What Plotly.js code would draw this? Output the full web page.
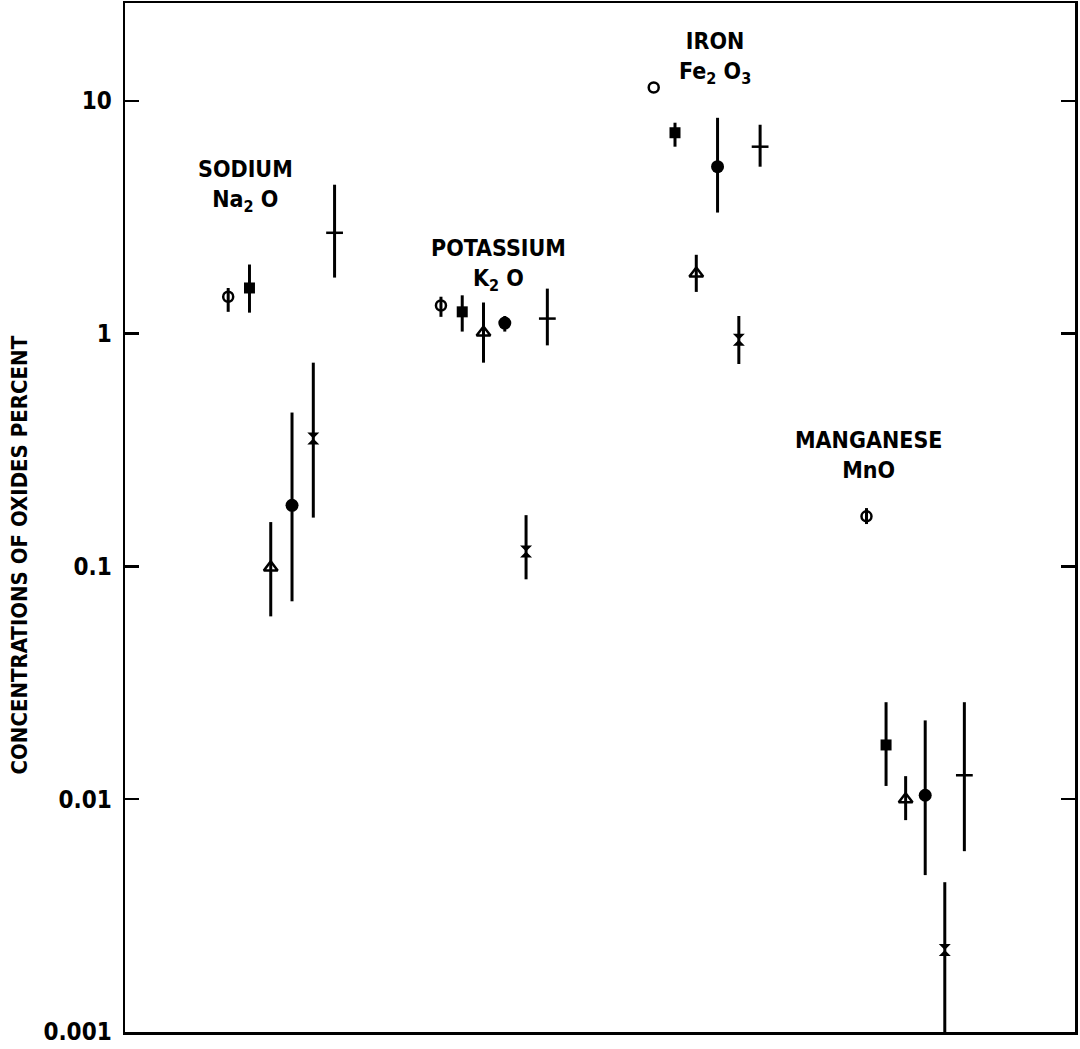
<!DOCTYPE html>
<html>
<head>
<meta charset="utf-8">
<script src="https://cdn.plot.ly/plotly-3.0.1.min.js"></script>
<style>
  html, body { margin: 0; padding: 0; background: #fff; }
  #chart { width: 1080px; height: 1049px; }
</style>
</head>
<body>
<div id="chart"></div>
<script>
// Oxide groups (left to right) and their labels
const groups = ['SODIUM', 'POTASSIUM', 'IRON', 'MANGANESE'];
const groupLabels = ['SODIUM<br>Na<sub>2</sub> O', 'POTASSIUM<br>K<sub>2</sub> O', 'IRON<br>Fe<sub>2</sub> O<sub>3</sub>', 'MANGANESE<br>MnO'];

// Six samples within each group (value, upper and lower limit), percent
const openCircle     = [1.44, 1.32, 11.4, 0.164];
const openCircleHi   = [1.57, 1.44, 11.4, 0.178];
const openCircleLo   = [1.24, 1.18, 11.4, 0.152];

const filledSquare   = [1.57, 1.24, 7.29, 0.0171];
const filledSquareHi = [1.98, 1.46, 8.05, 0.0261];
const filledSquareLo = [1.23, 1.02, 6.35, 0.0114];

const openTriangle   = [0.099, 1.01, 1.81, 0.0100];
const openTriangleHi = [0.155, 1.36, 2.18, 0.01256];
const openTriangleLo = [0.061, 0.75, 1.51, 0.00813];

const filledCircle   = [0.183, 1.11, 5.21, 0.0104];
const filledCircleHi = [0.458, 1.19, 8.45, 0.0218];
const filledCircleLo = [0.0708, 1.02, 3.31, 0.00472];

const hourglassMark   = [0.354, 0.116, 0.94, 0.00225];
const hourglassMarkHi = [0.75, 0.166, 1.19, 0.0044];
const hourglassMarkLo = [0.162, 0.088, 0.74, 0.00098];

const plusMark   = [2.71, 1.16, 6.35, 0.01267];
const plusMarkHi = [4.36, 1.56, 7.89, 0.0261];
const plusMarkLo = [1.74, 0.89, 5.21, 0.00598];

const tickVals = [0.001, 0.01, 0.1, 1, 10];
const tickText = ['0.001', '0.01', '0.1', '1', '10'];

const samples = [
  {v: openCircle,    hi: openCircleHi,    lo: openCircleLo,    symbol: 'circle-open',       size: 10, lw: 2.5},
  {v: filledSquare,  hi: filledSquareHi,  lo: filledSquareLo,  symbol: 'square',            size: 11, lw: 0},
  {v: openTriangle,  hi: openTriangleHi,  lo: openTriangleLo,  symbol: 'triangle-up-open',  size: 12, lw: 2.5},
  {v: filledCircle,  hi: filledCircleHi,  lo: filledCircleLo,  symbol: 'circle',            size: 13, lw: 0},
  {v: hourglassMark, hi: hourglassMarkHi, lo: hourglassMarkLo, symbol: 'hourglass',         size: 12, lw: 0},
  {v: plusMark,      hi: plusMarkHi,      lo: plusMarkLo,      symbol: 'line-ew',           size: 12, lw: 2.5}
];

// layout helpers: slot spacing within a group (Mn samples are drawn closer together)
const GROUP_STEP = 10;
const slotStep = [1, 1, 1, 0.92];
const labelShift = [0.8, 2.7, 2.9, 0.1];
const labelLevel = [4.3, 1.98, 15.3, 0.30];

const traces = samples.map((s, k) => ({
  type: 'scatter',
  mode: 'markers',
  x: groups.map((g, i) => i * GROUP_STEP + k * slotStep[i]),
  y: s.v,
  showlegend: false,
  marker: {
    symbol: s.symbol, size: s.size, color: '#000',
    line: {color: '#000', width: s.lw}
  },
  error_y: {
    type: 'data', symmetric: false,
    array: s.hi.map((h, i) => h - s.v[i]),
    arrayminus: s.v.map((v, i) => v - s.lo[i]),
    color: '#000', thickness: 3, width: 0
  },
  hoverinfo: 'y'
}));

const FONT = '"DejaVu Sans Condensed", "DejaVu Sans", sans-serif';
const labelFont = {family: FONT, size: 23, color: '#000', weight: 'bold'};

const annotations = groups.map((g, i) => ({
  xref: 'x', yref: 'y',
  x: i * GROUP_STEP + labelShift[i],
  y: Math.log10(labelLevel[i]),
  text: groupLabels[i],
  showarrow: false,
  font: labelFont,
  xanchor: 'center', yanchor: 'middle', align: 'center'
}));
annotations.push({
  xref: 'paper', yref: 'paper',
  x: -0.111, y: 0.4636,
  text: 'CONCENTRATIONS OF OXIDES PERCENT',
  textangle: -90, showarrow: false,
  font: {family: FONT, size: 22, color: '#000', weight: 'bold'},
  xanchor: 'center', yanchor: 'middle'
});

const layout = {
  width: 1080, height: 1049,
  margin: {l: 125, r: 5, t: 3, b: 17},
  paper_bgcolor: '#fff', plot_bgcolor: '#fff',
  showlegend: false,
  xaxis: {
    range: [-4.85, 39.8],
    showticklabels: false, ticks: '', showgrid: false, zeroline: false,
    showline: true, mirror: true, linecolor: '#000', linewidth: 2.5
  },
  yaxis: {
    type: 'log', range: [-3, 1.42],
    tickmode: 'array', tickvals: tickVals, ticktext: tickText,
    ticks: 'inside', ticklen: 14, tickwidth: 2.5, tickcolor: '#000',
    ticklabelstandoff: 6,
    showgrid: false, zeroline: false,
    showline: true, mirror: 'ticks', linecolor: '#000', linewidth: 2.5,
    tickfont: {family: FONT, size: 24, color: '#000', weight: 'bold'}
  },
  annotations: annotations
};

Plotly.newPlot('chart', traces, layout, {displayModeBar: false, staticPlot: true});
</script>
</body>
</html>
